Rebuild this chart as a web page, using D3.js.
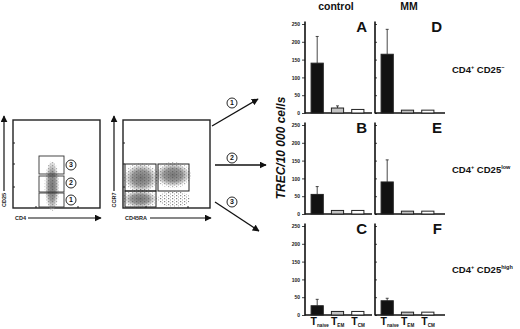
<!DOCTYPE html>
<html><head><meta charset="utf-8">
<script src="https://cdn.jsdelivr.net/npm/d3@7/dist/d3.min.js"></script>
<style>body{margin:0;background:#fff}svg{display:block;font-family:Arial,"Liberation Sans",sans-serif}</style>
</head><body>
<script>
// ---- data ----
const categories = ["naive", "EM", "CM"];
const columns = ["control", "MM"];
const panelLetters = [["A", "B", "C"], ["D", "E", "F"]];
const rowLabels = [["CD4", "+", " CD25", "−"], ["CD4", "+", " CD25", "low"], ["CD4", "+", " CD25", "high"]];
const controlMeans = [[140, 14, 10], [55, 10, 10], [26, 10, 10]];
const controlErr = [[75, 6, 0], [22, 0, 0], [18, 0, 0]];
const mmMeans = [[165, 8, 8], [90, 8, 8], [40, 8, 8]];
const mmErr = [[70, 0, 0], [62, 0, 0], [7, 0, 0]];
const yTicks = [0, 50, 100, 150, 200, 250];
const gateNumbers = ["1", "2", "3"];

const svg = d3.select("body").append("svg").attr("width", 520).attr("height", 329);
const defs = svg.append("defs");
defs.append("marker").attr("id", "ah").attr("viewBox", "0 0 10 10").attr("refX", 9).attr("refY", 5)
  .attr("markerWidth", 7).attr("markerHeight", 7).attr("orient", "auto-start-reverse").attr("markerUnits", "userSpaceOnUse")
  .append("path").attr("d", "M0,0L10,5L0,10z").attr("fill", "#111");
const grad = defs.append("radialGradient").attr("id", "cloud");
grad.append("stop").attr("offset", "0%").attr("stop-color", "#777");
grad.append("stop").attr("offset", "60%").attr("stop-color", "#999");
grad.append("stop").attr("offset", "100%").attr("stop-color", "#bbb").attr("stop-opacity", 0.3);
const pat = defs.append("pattern").attr("id", "dots").attr("width", 4).attr("height", 3).attr("patternUnits", "userSpaceOnUse");
pat.append("rect").attr("x", 0).attr("y", 0).attr("width", 1.2).attr("height", 1.2).attr("fill", "#333");
pat.append("rect").attr("x", 2).attr("y", 1.5).attr("width", 1).attr("height", 1).attr("fill", "#555");

// ---- bar panels ----
const colAxisX = [305, 375];
const colLineW = [67, 70];
const colLetterX = [367, 442];
const panelH = 89;
const rowBottom = i => 113 + 101 * i;
const data = [[controlMeans, controlErr], [mmMeans, mmErr]];
const fills = ["#111", "#c4c4c4", "#fff"];

columns.forEach((col, c) => {
  const ax = colAxisX[c];
  for (let r = 0; r < 3; r++) {
    const yb = rowBottom(r);
    const y = d3.scaleLinear().domain([0, 250]).range([yb, yb - panelH]);
    const x = d3.scaleBand().domain(categories).range([ax, ax + 65]).paddingInner(0.4).paddingOuter(0.3);
    const g = svg.append("g");
    const axis = d3.axisLeft(y).tickValues(yTicks).tickSizeOuter(0);
    if (c === 0) axis.tickSize(3).tickPadding(2); else axis.tickSize(-2).tickFormat("");
    const ag = g.append("g").attr("transform", `translate(${ax},0)`).call(axis);
    ag.select(".domain").remove();
    ag.selectAll("line").attr("stroke", "#111").attr("stroke-width", 0.8);
    ag.selectAll("text").attr("font-size", 5).attr("font-weight", "bold").attr("fill", "#222");
    g.append("line").attr("x1", ax).attr("x2", ax).attr("y1", yb - panelH - 2.5).attr("y2", yb + 0.5)
      .attr("stroke", "#111").attr("stroke-width", 1.6);
    g.append("line").attr("x1", ax).attr("x2", ax + colLineW[c]).attr("y1", yb).attr("y2", yb)
      .attr("stroke", "#111").attr("stroke-width", 1.6);
    const means = data[c][0][r], errs = data[c][1][r];
    categories.forEach((k, i) => {
      if (errs[i] > 0) {
        const cx = x(k) + x.bandwidth() / 2;
        g.append("line").attr("x1", cx).attr("x2", cx).attr("y1", y(means[i])).attr("y2", y(means[i] + errs[i]))
          .attr("stroke", "#333").attr("stroke-width", 0.9);
        g.append("line").attr("x1", cx - 1.5).attr("x2", cx + 1.5).attr("y1", y(means[i] + errs[i])).attr("y2", y(means[i] + errs[i]))
          .attr("stroke", "#333").attr("stroke-width", 0.9);
      }
    });
    g.selectAll("rect.bar").data(categories).join("rect").attr("class", "bar")
      .attr("x", k => x(k)).attr("width", x.bandwidth())
      .attr("y", (k, i) => y(means[i])).attr("height", (k, i) => yb - y(means[i]))
      .attr("fill", (k, i) => fills[i]).attr("stroke", "#222").attr("stroke-width", 1);
    g.append("text").attr("x", colLetterX[c]).attr("y", yb - panelH + 8).attr("text-anchor", "end")
      .attr("font-size", 15).attr("font-weight", "bold").attr("fill", "#111").text(panelLetters[c][r]);
    if (r === 2) {
      categories.forEach(k => {
        const t = g.append("text").attr("x", x(k) - 0.5).attr("y", 325).attr("font-weight", "bold").attr("fill", "#111");
        t.append("tspan").attr("font-size", 10.5).text("T");
        t.append("tspan").attr("font-size", 4.6).attr("dy", 2).text(k);
      });
    }
  }
});

// column titles
svg.append("text").attr("x", 336).attr("y", 10).attr("text-anchor", "middle").attr("font-size", 10.5)
  .attr("font-weight", "bold").attr("fill", "#111").text(columns[0]);
svg.append("text").attr("x", 409).attr("y", 10).attr("text-anchor", "middle").attr("font-size", 10.5)
  .attr("font-weight", "bold").attr("fill", "#111").text(columns[1]);

// row labels
rowLabels.forEach((lab, r) => {
  const t = svg.append("text").attr("x", 452).attr("y", 73 + 100 * r).attr("font-weight", "bold").attr("fill", "#111");
  t.append("tspan").attr("font-size", 9.5).text(lab[0]);
  t.append("tspan").attr("font-size", 5.5).attr("dy", -4).text(lab[1]);
  t.append("tspan").attr("font-size", 9.5).attr("dy", 4).text(lab[2]);
  t.append("tspan").attr("font-size", 5.5).attr("dy", -4).text(lab[3]);
});

// y label
svg.append("text").attr("transform", "translate(285,148) rotate(-90)").attr("text-anchor", "middle")
  .attr("font-size", 12).attr("font-weight", "bold").attr("font-style", "italic").attr("fill", "#111")
  .text("TREC/10 000 cells");

// ---- arrows from gates ----
const arrows = [[212, 126, 258, 99, 232, 103], [215, 165, 266, 165, 232, 158], [215, 202, 259, 231, 232, 202]];
arrows.forEach((a, i) => {
  svg.append("line").attr("x1", a[0]).attr("y1", a[1]).attr("x2", a[2]).attr("y2", a[3])
    .attr("stroke", "#111").attr("stroke-width", 1.3).attr("marker-end", "url(#ah)");
  svg.append("circle").attr("cx", a[4]).attr("cy", a[5]).attr("r", 5).attr("fill", "#fff").attr("stroke", "#111").attr("stroke-width", 0.9);
  svg.append("text").attr("x", a[4]).attr("y", a[5] + 2.4).attr("text-anchor", "middle").attr("font-size", 7)
    .attr("font-weight", "bold").attr("fill", "#111").text(gateNumbers[i]);
});

// ---- flow plots ----
function flowFrame(x0, x1, yl, xl, xlabW) {
  const g = svg.append("g");
  g.append("rect").attr("x", x0).attr("y", 120).attr("width", x1 - x0).attr("height", 88)
    .attr("fill", "none").attr("stroke", "#222").attr("stroke-width", 1.4);
  [143, 164, 187].forEach(v => g.append("line").attr("x1", x0).attr("x2", x0 + 2).attr("y1", v).attr("y2", v).attr("stroke", "#222"));
  [x0 + 23, x0 + 65].forEach(v => g.append("line").attr("x1", v).attr("x2", v).attr("y1", 208).attr("y2", 206).attr("stroke", "#222"));
  const ax = x0 - 9;
  g.append("line").attr("x1", ax).attr("x2", ax).attr("y1", 191).attr("y2", 116).attr("stroke", "#111").attr("stroke-width", 1.2).attr("marker-end", "url(#ah)");
  g.append("text").attr("transform", `translate(${ax + 2},200) rotate(-90)`).attr("text-anchor", "middle")
    .attr("font-size", 5.5).attr("font-weight", "bold").attr("fill", "#222").text(yl);
  g.append("text").attr("x", x0 + 2).attr("y", 220).attr("font-size", 5.5).attr("font-weight", "bold").attr("fill", "#222").text(xl);
  g.append("line").attr("x1", x0 + 2 + xlabW).attr("x2", x1 + 1).attr("y1", 218).attr("y2", 218).attr("stroke", "#111").attr("stroke-width", 1.2).attr("marker-end", "url(#ah)");
  return g;
}
const f1 = flowFrame(13, 100, "CD25", "CD4", 13);
f1.append("ellipse").attr("cx", 52).attr("cy", 186).attr("rx", 6.5).attr("ry", 24).attr("fill", "url(#cloud)");
f1.append("ellipse").attr("cx", 52).attr("cy", 186).attr("rx", 7.5).attr("ry", 25).attr("fill", "url(#dots)").attr("opacity", 0.35);
[[39, 156, 25, 18], [39, 176, 25, 16], [39, 193, 25, 14]].forEach(b => {
  f1.append("rect").attr("x", b[0]).attr("y", b[1]).attr("width", b[2]).attr("height", b[3]).attr("fill", "none").attr("stroke", "#333").attr("stroke-width", 0.9);
});
[[71, 200, "1"], [71, 183, "2"], [71, 165, "3"]].forEach(cn => {
  f1.append("circle").attr("cx", cn[0]).attr("cy", cn[1]).attr("r", 5).attr("fill", "#fff").attr("stroke", "#111").attr("stroke-width", 0.9);
  f1.append("text").attr("x", cn[0]).attr("y", cn[1] + 2.4).attr("text-anchor", "middle").attr("font-size", 7).attr("font-weight", "bold").attr("fill", "#111").text(cn[2]);
});

const f2 = flowFrame(123, 210, "CCR7", "CD45RA", 25);
[[141, 178, 15, 13], [173, 175, 16, 11], [140, 199, 15, 8]].forEach(e => {
  f2.append("ellipse").attr("cx", e[0]).attr("cy", e[1]).attr("rx", e[2]).attr("ry", e[3]).attr("fill", "url(#cloud)");
  f2.append("ellipse").attr("cx", e[0]).attr("cy", e[1]).attr("rx", e[2] + 2).attr("ry", e[3] + 2).attr("fill", "url(#dots)").attr("opacity", 0.4);
});
f2.append("ellipse").attr("cx", 174).attr("cy", 199).attr("rx", 16).attr("ry", 8).attr("fill", "url(#dots)").attr("opacity", 0.6);
[[125, 164, 31, 27], [125, 191, 31, 16], [158, 164, 31, 27]].forEach(b => {
  f2.append("rect").attr("x", b[0]).attr("y", b[1]).attr("width", b[2]).attr("height", b[3]).attr("fill", "none").attr("stroke", "#222").attr("stroke-width", 1);
});
</script>
</body></html>
